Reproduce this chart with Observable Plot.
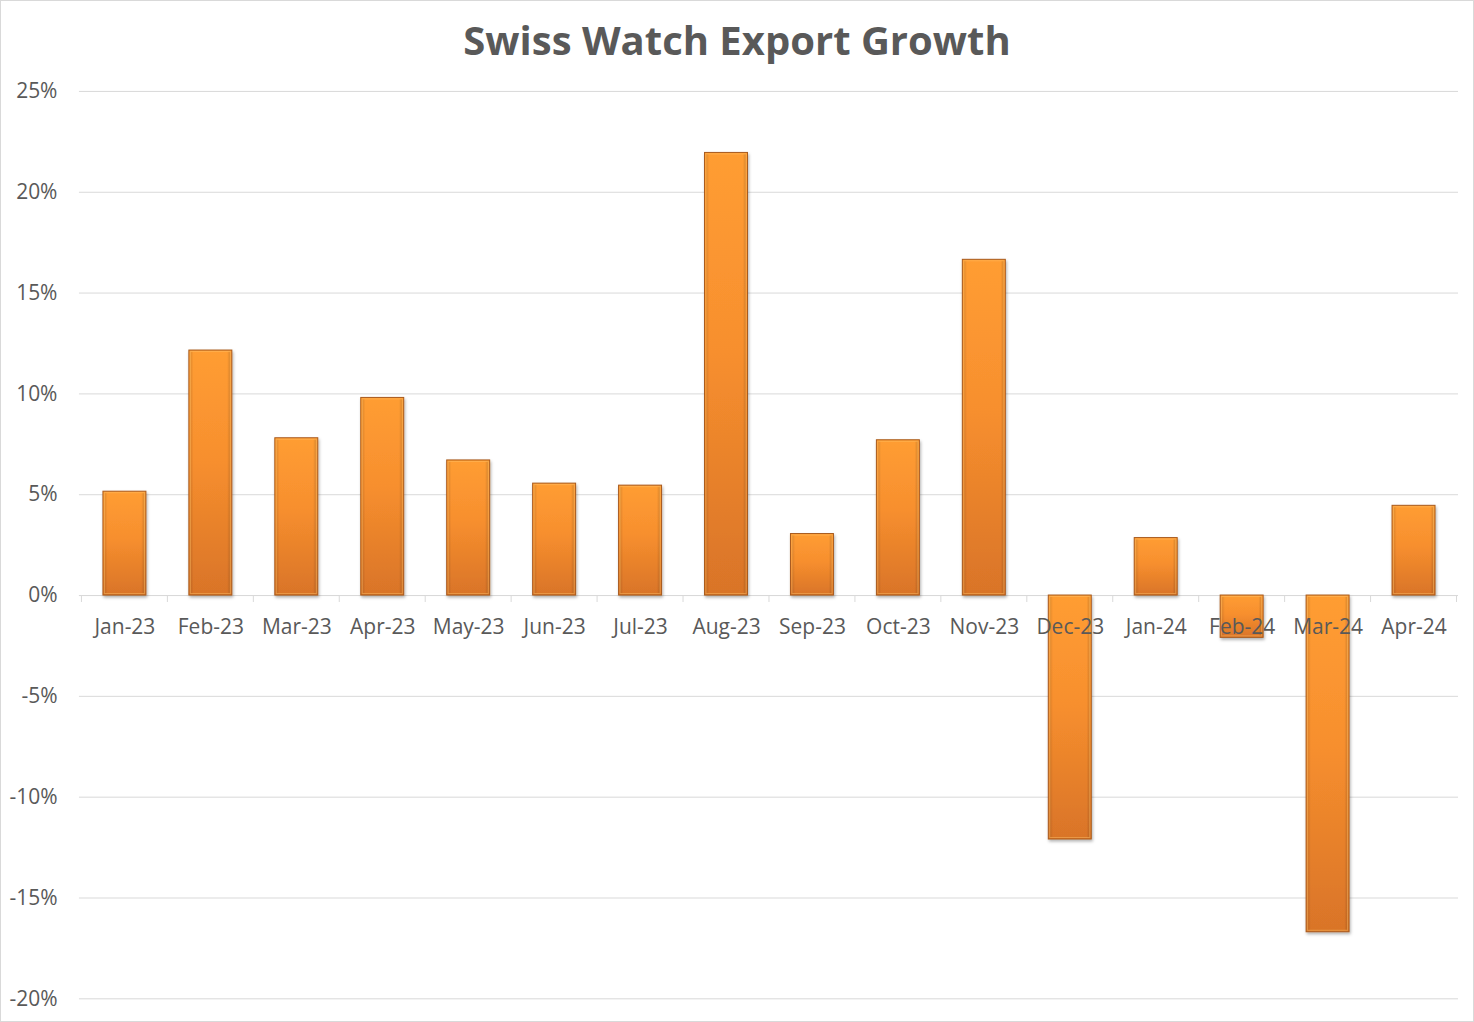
<!DOCTYPE html>
<html>
<head>
<meta charset="utf-8">
<script src="https://cdn.jsdelivr.net/npm/d3@7"></script>
<script src="https://cdn.jsdelivr.net/npm/@observablehq/plot@0.6"></script>
<style>
  html, body { margin: 0; padding: 0; background: #fff; }
  #wrap { position: relative; width: 1474px; height: 1022px; box-sizing: border-box; border: 1px solid #d9d9d9; overflow: hidden; }
  #title { position: absolute; left: 0; right: 0; top: 11px; text-align: center; font-family: "Open Sans", sans-serif; font-weight: 700; font-size: 40px; color: #595959; }
  #chart { position: absolute; left: -1px; top: -1px; }
</style>
</head>
<body>
<div id="wrap">
  <div id="chart"></div>
  <div id="title">Swiss Watch Export Growth</div>
</div>
<script>
const months = ["Jan-23","Feb-23","Mar-23","Apr-23","May-23","Jun-23","Jul-23","Aug-23","Sep-23","Oct-23","Nov-23","Dec-23","Jan-24","Feb-24","Mar-24","Apr-24"];
const growth = [5.15, 12.15, 7.8, 9.8, 6.7, 5.55, 5.45, 21.95, 3.05, 7.7, 16.65, -12.1, 2.85, -2.1, -16.7, 4.45];
const yTicks = [-20, -15, -10, -5, 0, 5, 10, 15, 20, 25];

const data = months.map((m, i) => ({month: m, value: growth[i]}));
const zeroRow = months.map(m => ({month: m, base: 0}));

const defsMark = () => {
  const ns = "http://www.w3.org/2000/svg";
  const defs = document.createElementNS(ns, "defs");
  defs.innerHTML = `
    <linearGradient id="barGrad" x1="0" y1="0" x2="0" y2="1">
      <stop offset="0" stop-color="#FF9D33"/>
      <stop offset="0.45" stop-color="#F78F2E"/>
      <stop offset="1" stop-color="#D97428"/>
    </linearGradient>
    <linearGradient id="sideGrad" x1="0" y1="0" x2="1" y2="0">
      <stop offset="0" stop-color="#000" stop-opacity="0.12"/>
      <stop offset="0.08" stop-color="#000" stop-opacity="0"/>
      <stop offset="0.92" stop-color="#000" stop-opacity="0"/>
      <stop offset="1" stop-color="#000" stop-opacity="0.15"/>
    </linearGradient>
    <filter id="shadow" x="-20%" y="-5%" width="140%" height="110%">
      <feDropShadow dx="1" dy="2" stdDeviation="1.5" flood-color="#000" flood-opacity="0.3"/>
    </filter>`;
  return defs;
};

// Category boundary tick marks drawn from the band scale
const boundaryTicks = (index, scales) => {
  const ns = "http://www.w3.org/2000/svg";
  const g = document.createElementNS(ns, "g");
  const xs = scales.x, ys = scales.y;
  const step = xs.step();
  const y0 = ys(0);
  const doms = xs.domain();
  const first = xs(doms[0]) - (step - xs.bandwidth()) / 2;
  for (let i = 0; i <= doms.length; i++) {
    const xx = first + i * step;
    const l = document.createElementNS(ns, "line");
    l.setAttribute("x1", xx); l.setAttribute("x2", xx);
    l.setAttribute("y1", y0); l.setAttribute("y2", y0 + 7);
    l.setAttribute("stroke", "#d9d9d9");
    l.setAttribute("stroke-width", 1);
    g.appendChild(l);
  }
  return g;
};

const chart = Plot.plot({
  width: 1474,
  height: 1022,
  marginTop: 91,
  marginBottom: 23,
  marginLeft: 79,
  marginRight: 15,
  style: { fontFamily: "'Open Sans', sans-serif", fontSize: "21px", color: "#595959", background: "transparent" },
  x: { domain: months, type: "band", paddingInner: 0.5, paddingOuter: 0.25, axis: null },
  y: { domain: [-20, 25], ticks: yTicks, axis: null },
  marks: [
    defsMark,
    Plot.gridY(yTicks, { stroke: "#d9d9d9", strokeOpacity: 1, strokeWidth: 1 }),
    Plot.axisY(yTicks, { tickSize: 0, tickPadding: 22, tickFormat: d => d + "%", fill: "#595959", fontSize: 21 }),
    Plot.ruleY([0], { stroke: "#d9d9d9", strokeWidth: 1 }),
    boundaryTicks,
    Plot.barY(data, { x: "month", y: "value", fill: "url(#barGrad)", stroke: "#A85A1C", strokeWidth: 1,
      render: (i, s, v, d, c, next) => { const g = next(i, s, v, d, c); g.setAttribute("filter", "url(#shadow)"); return g; } }),
    Plot.barY(data, { x: "month", y: "value", fill: "url(#sideGrad)", stroke: "#FFC36A", strokeOpacity: 0.45, strokeWidth: 1, inset: 1.5 }),
    Plot.text(zeroRow, { x: "month", y: "base", text: "month", dy: 32, fill: "#595959", fontSize: 21 })
  ]
});

document.getElementById("chart").appendChild(chart);
</script>
</body>
</html>
